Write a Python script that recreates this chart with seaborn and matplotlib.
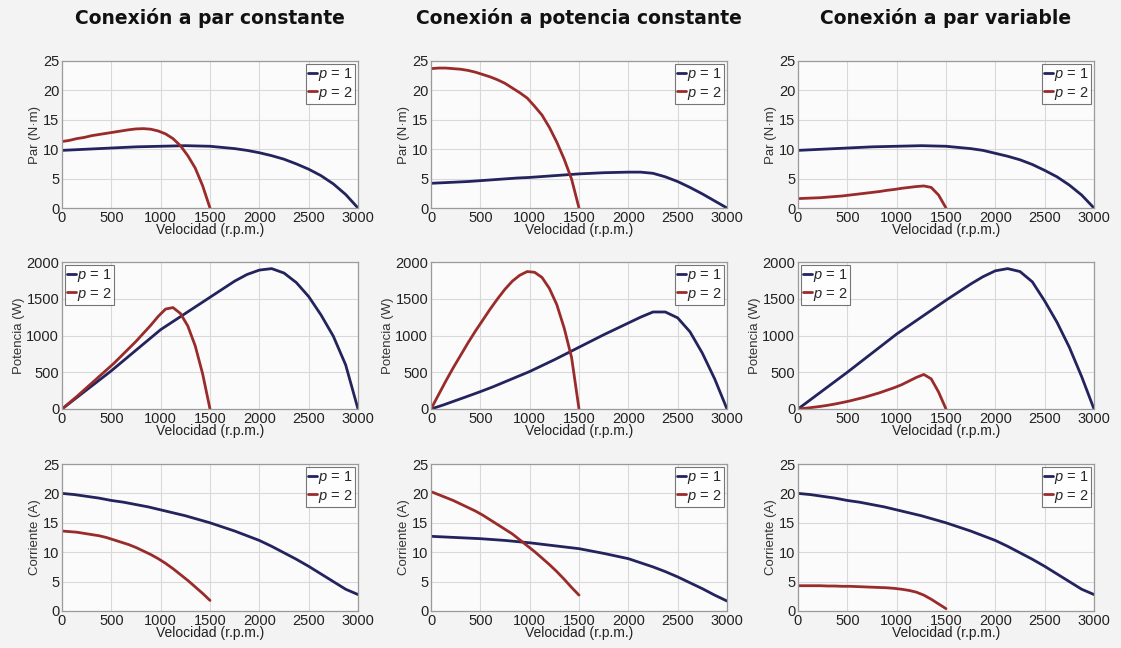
import numpy as np
import pandas as pd
import matplotlib
matplotlib.use("Agg")
import matplotlib.pyplot as plt
import seaborn as sns

# ---------------- data ----------------
col_titles = ["Conexión a par constante", "Conexión a potencia constante", "Conexión a par variable"]
row_ylabels = ["Par (N·m)", "Potencia (W)", "Corriente (A)"]
xlabel = "Velocidad (r.p.m.)"
series_labels = ["$p$ = 1", "$p$ = 2"]

# speeds (r.p.m.) at which the curves are read
x_p1 = [0, 125, 250, 375, 500, 625, 750, 875, 1000, 1125, 1250, 1375, 1500,
        1625, 1750, 1875, 2000, 2125, 2250, 2375, 2500, 2625, 2750, 2875, 3000]
x_p2 = [0, 75, 150, 225, 300, 375, 450, 525, 600, 675, 750, 825, 900,
        975, 1050, 1125, 1200, 1275, 1350, 1425, 1500]

# Row 1: torque (N·m)
par_const_p1 = [9.8, 9.9, 10.0, 10.1, 10.2, 10.3, 10.4, 10.45, 10.5, 10.55, 10.6, 10.55, 10.5,
                10.3, 10.1, 9.8, 9.4, 8.9, 8.3, 7.5, 6.6, 5.5, 4.1, 2.3, 0]
par_const_p2 = [11.3, 11.5, 11.8, 12.0, 12.3, 12.5, 12.7, 12.9, 13.1, 13.3, 13.45, 13.5, 13.4,
                13.1, 12.6, 11.8, 10.6, 8.9, 6.8, 3.8, 0]
pot_const_par_p1 = [4.2, 4.3, 4.4, 4.5, 4.65, 4.8, 4.95, 5.1, 5.2, 5.35, 5.5, 5.65, 5.8,
                    5.9, 6.0, 6.05, 6.1, 6.1, 5.9, 5.3, 4.5, 3.5, 2.4, 1.2, 0]
pot_const_par_p2 = [23.7, 23.8, 23.8, 23.7, 23.6, 23.4, 23.1, 22.7, 22.3, 21.8, 21.2, 20.4, 19.6,
                    18.7, 17.3, 15.8, 13.7, 11.2, 8.3, 4.9, 0]
var_par_p1 = [9.8, 9.9, 10.0, 10.1, 10.2, 10.3, 10.4, 10.45, 10.5, 10.55, 10.6, 10.55, 10.5,
              10.3, 10.1, 9.8, 9.3, 8.8, 8.2, 7.4, 6.4, 5.3, 3.9, 2.2, 0]
var_par_p2 = [1.6, 1.65, 1.7, 1.75, 1.85, 1.95, 2.05, 2.2, 2.35, 2.5, 2.65, 2.8, 3.0,
              3.15, 3.35, 3.5, 3.65, 3.75, 3.5, 2.2, 0]

# Row 2: power (W)
par_const_pot_p1 = [0, 130, 260, 390, 520, 660, 800, 940, 1080, 1190, 1300, 1410, 1520,
                    1630, 1740, 1830, 1890, 1910, 1850, 1720, 1530, 1280, 990, 600, 0]
par_const_pot_p2 = [0, 85, 170, 260, 350, 440, 530, 620, 720, 820, 920, 1030, 1140,
                    1260, 1360, 1380, 1300, 1130, 860, 480, 0]
pot_const_pot_p1 = [0, 55, 115, 175, 236, 300, 370, 440, 510, 590, 670, 755, 840,
                    925, 1010, 1090, 1170, 1250, 1320, 1320, 1240, 1050, 760, 410, 0]
pot_const_pot_p2 = [0, 190, 380, 560, 730, 900, 1060, 1210, 1360, 1500, 1630, 1740, 1820,
                    1870, 1860, 1790, 1640, 1420, 1100, 700, 0]
var_pot_p1 = [0, 125, 250, 375, 500, 630, 760, 890, 1020, 1135, 1250, 1365, 1480,
              1590, 1700, 1800, 1880, 1910, 1870, 1730, 1470, 1180, 840, 440, 0]
var_pot_p2 = [0, 10, 22, 35, 50, 68, 88, 110, 135, 160, 190, 220, 255,
              290, 330, 380, 430, 470, 410, 230, 0]

# Row 3: current (A)
par_const_cor_p1 = [20.0, 19.8, 19.5, 19.2, 18.8, 18.5, 18.1, 17.7, 17.2, 16.7, 16.2, 15.6, 15.0,
                    14.3, 13.6, 12.8, 12.0, 11.0, 9.9, 8.8, 7.6, 6.3, 5.0, 3.7, 2.8]
par_const_cor_p2 = [13.6, 13.5, 13.4, 13.2, 13.0, 12.8, 12.5, 12.1, 11.7, 11.3, 10.8, 10.2, 9.6,
                    8.9, 8.1, 7.2, 6.2, 5.2, 4.1, 3.0, 1.8]
pot_const_cor_p1 = [12.7, 12.6, 12.5, 12.4, 12.3, 12.15, 12.0, 11.8, 11.6, 11.35, 11.1, 10.85, 10.6,
                    10.2, 9.8, 9.35, 8.9, 8.2, 7.5, 6.7, 5.8, 4.8, 3.8, 2.7, 1.7]
pot_const_cor_p2 = [20.3, 19.8, 19.3, 18.8, 18.2, 17.6, 17.0, 16.3, 15.5, 14.7, 13.9, 13.1, 12.1,
                    11.1, 10.1, 9.0, 7.9, 6.7, 5.4, 4.0, 2.7]
var_cor_p1 = [20.0, 19.8, 19.5, 19.2, 18.8, 18.5, 18.1, 17.7, 17.2, 16.7, 16.2, 15.6, 15.0,
              14.3, 13.6, 12.8, 12.0, 11.0, 9.9, 8.8, 7.6, 6.3, 5.0, 3.7, 2.8]
var_cor_p2 = [4.3, 4.3, 4.3, 4.3, 4.25, 4.25, 4.2, 4.2, 4.15, 4.1, 4.05, 4.0, 3.95,
              3.85, 3.7, 3.5, 3.2, 2.7, 2.0, 1.2, 0.4]

panels = [
    [(par_const_p1, par_const_p2), (pot_const_par_p1, pot_const_par_p2), (var_par_p1, var_par_p2)],
    [(par_const_pot_p1, par_const_pot_p2), (pot_const_pot_p1, pot_const_pot_p2), (var_pot_p1, var_pot_p2)],
    [(par_const_cor_p1, par_const_cor_p2), (pot_const_cor_p1, pot_const_cor_p2), (var_cor_p1, var_cor_p2)],
]
row_ylim = [25, 2000, 25]
row_yticks = [[0, 5, 10, 15, 20, 25], [0, 500, 1000, 1500, 2000], [0, 5, 10, 15, 20, 25]]
xticks = [0, 500, 1000, 1500, 2000, 2500, 3000]
legend_locs = [["upper right"] * 3, ["upper left", "upper right", "upper left"], ["upper right"] * 3]

# ---------------- style ----------------
sns.set_theme(style="whitegrid")
plt.rcParams['font.family'] = ['Liberation Sans', 'DejaVu Sans']
plt.rcParams['mathtext.fontset'] = 'custom'
plt.rcParams['mathtext.it'] = 'Liberation Sans:italic'

colors = {"$p$ = 1": "#23235e", "$p$ = 2": "#9a2b2b"}

W, H = 1121, 648
fig = plt.figure(figsize=(W / 100, H / 100), dpi=100, facecolor="#f3f3f3")

col_left = [62, 431, 798]
col_width = 296
row_top = [61, 262, 464]
row_height = 147

for r in range(3):
    for c in range(3):
        ax = fig.add_axes([col_left[c] / W, 1 - (row_top[r] + row_height) / H,
                           col_width / W, row_height / H])
        ax.set_facecolor("#fbfbfb")
        y1, y2 = panels[r][c]
        df = pd.concat([
            pd.DataFrame({"x": x_p1, "y": y1, "p": series_labels[0]}),
            pd.DataFrame({"x": x_p2, "y": y2, "p": series_labels[1]}),
        ])
        sns.lineplot(data=df, x="x", y="y", hue="p", palette=colors, ax=ax,
                     linewidth=2.0, sort=False, legend=True)
        ax.set_xlim(0, 3000)
        ax.set_ylim(0, row_ylim[r])
        ax.set_xticks(xticks)
        ax.set_yticks(row_yticks[r])
        ax.tick_params(axis="both", labelsize=10.5, length=0, pad=2, colors="#222222")
        ax.grid(True, color="#d9d9d9", linewidth=0.8)
        for s in ax.spines.values():
            s.set_color("#9a9a9a")
            s.set_linewidth(0.9)
        ax.set_xlabel(xlabel, fontsize=10, labelpad=-1, color="#222222")
        ax.set_ylabel(row_ylabels[r], fontsize=9.5, labelpad=1, color="#333333")
        leg = ax.legend(loc=legend_locs[r][c], fontsize=10.5, handlelength=0.6,
                        handletextpad=0.1, borderpad=0.15, labelspacing=0.1,
                        borderaxespad=0.2, frameon=True, fancybox=False, title=None)
        leg.get_frame().set_edgecolor("#555555")
        leg.get_frame().set_linewidth(0.8)
        leg.get_frame().set_facecolor("white")

for c in range(3):
    fig.text((col_left[c] + col_width / 2) / W, 1 - 18 / H, col_titles[c],
             ha="center", va="center", fontsize=13.5, fontweight="bold",
             family="DejaVu Sans", color="#111111")

fig.savefig("out.png", dpi=100, facecolor=fig.get_facecolor())
